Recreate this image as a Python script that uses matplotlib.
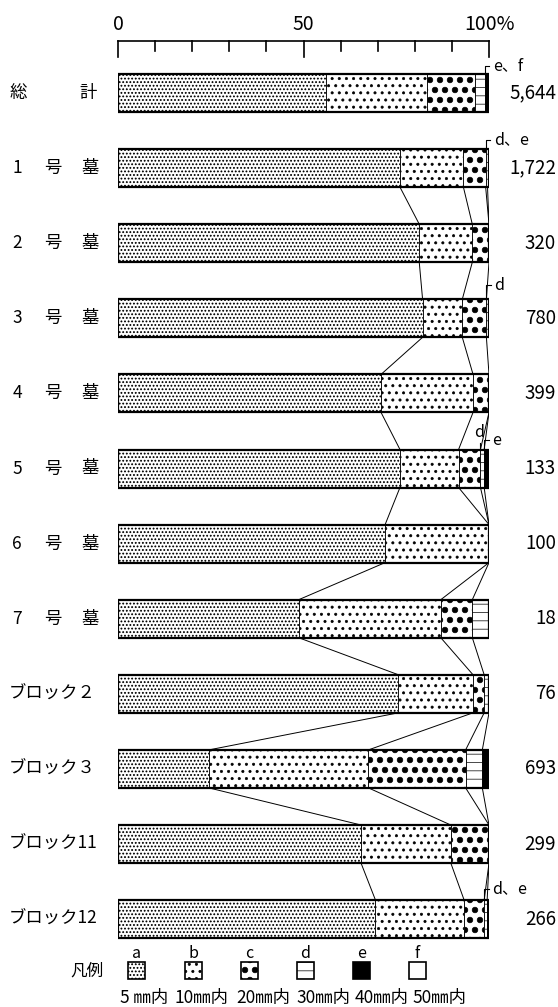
import numpy as np
import matplotlib
matplotlib.use("Agg")
import matplotlib.pyplot as plt
import matplotlib.hatch as mhatch
from matplotlib.patches import Rectangle
from matplotlib import font_manager

# ---------------- data ----------------
row_labels = ["総計", "1号墓", "2号墓", "3号墓", "4号墓", "5号墓", "6号墓", "7号墓",
              "ブロック２", "ブロック３", "ブロック11", "ブロック12"]
counts = ["5,644", "1,722", "320", "780", "399", "133", "100", "18", "76", "693", "299", "266"]
seg_a = [56.0, 76.0, 81.2, 82.1, 70.9, 76.0, 72.0, 48.7, 75.6, 24.5, 65.5, 69.4]   # 5mm
seg_b = [27.2, 17.1, 14.3, 10.7, 24.8, 15.8, 28.0, 38.3, 20.1, 43.0, 24.2, 23.9]   # 10mm
seg_c = [13.0, 6.0, 4.5, 6.5, 4.3, 5.9, 0.0, 8.5, 3.0, 26.2, 10.3, 5.4]            # 20mm
seg_d = [2.7, 0.5, 0.0, 0.7, 0.0, 1.0, 0.0, 4.5, 1.3, 4.5, 0.0, 0.8]               # 30mm
seg_e = [0.8, 0.4, 0.0, 0.0, 0.0, 1.3, 0.0, 0.0, 0.0, 1.8, 0.0, 0.5]               # 40mm
seg_f = [0.3, 0.0, 0.0, 0.0, 0.0, 0.0, 0.0, 0.0, 0.0, 0.0, 0.0, 0.0]               # 50mm
legend_keys = ["a", "b", "c", "d", "e", "f"]
legend_texts = ["5 ㎜内", "10㎜内", "20㎜内", "30㎜内", "40㎜内", "50㎜内"]
axis_ticks = [0, 10, 20, 30, 40, 50, 60, 70, 80, 90, 100]
axis_labels = {0: "0", 50: "50", 100: "100%"}
# notes: (row, text, boundary index after which the note sits, rise in px, style)
notes = [(0, "e、f", 3, 8, "bracket"), (1, "d、e", 2, 9, "bracket"),
         (3, "d", 2, 14, "bracket"), (5, "d", 2, 9, "above"),
         (5, "e", 3, 9, "bracket"), (11, "d、e", 2, 11, "bracket")]

# ---------------- custom dot hatches (even row counts) ----------------
class FineDots(mhatch.Circles):
    size = 0.17
    filled = True
    def __init__(self, hatch, density):
        self.num_rows = hatch.count('o') * 28
        super().__init__(hatch, density)

class MedDots(mhatch.Circles):
    size = 0.16
    filled = True
    def __init__(self, hatch, density):
        self.num_rows = hatch.count('O') * 14
        super().__init__(hatch, density)

class BigDots(mhatch.Circles):
    size = 0.28
    filled = True
    def __init__(self, hatch, density):
        self.num_rows = hatch.count('*') * 10
        super().__init__(hatch, density)

ht = mhatch._hatch_types
ht[ht.index(mhatch.SmallCircles)] = FineDots
ht[ht.index(mhatch.LargeCircles)] = MedDots
ht[ht.index(mhatch.Stars)] = BigDots

plt.rcParams['font.family'] = ['Noto Sans CJK JP', 'DejaVu Sans']
plt.rcParams['hatch.linewidth'] = 0.5
names = {f.name for f in font_manager.fontManager.ttflist}
num_font = ['Liberation Sans Narrow', 'Noto Sans CJK JP'] if 'Liberation Sans Narrow' in names \
    else ['Noto Sans CJK JP', 'DejaVu Sans']

styles = [dict(hatch='o', fc='white'), dict(hatch='O', fc='white'),
          dict(hatch='*', fc='white'), dict(hatch='--', fc='white'),
          dict(hatch=None, fc='black'), dict(hatch=None, fc='white')]

# ---------------- figure geometry ----------------
W, H = 558, 1007
X0, X100 = 118, 489
ROW0, ROWSTEP = 93, 75.1
fig = plt.figure(figsize=(W / 100, H / 100), dpi=100)
ax = fig.add_axes([X0 / W, 0, (X100 - X0) / W, 1])
ax.set_xlim(0, 100)
ax.set_ylim((H - ROW0) / ROWSTEP, -ROW0 / ROWSTEP)
ax.axis('off')

def dx(px):
    return (px - X0) / (X100 - X0) * 100

def dy(py):
    return (py - ROW0) / ROWSTEP

bh = 38 / ROWSTEP
segs = np.array([seg_a, seg_b, seg_c, seg_d, seg_e, seg_f]).T
n = len(row_labels)
ypos = np.arange(n)
cum = np.cumsum(segs, axis=1)

# bars
for i in range(n):
    left = 0.0
    for k in range(6):
        w = segs[i, k]
        if w > 0:
            st = styles[k]
            ax.barh(ypos[i], w, left=left, height=bh, color=st['fc'], edgecolor='black',
                    hatch=st['hatch'], linewidth=0.6)
        left += w
    ax.barh(ypos[i], cum[i, -1], left=0, height=bh, fill=False, edgecolor='black', linewidth=1.6)

# connecting lines
for i in range(1, n - 1):
    for k in range(5):
        xt, xb = cum[i, k], cum[i + 1, k]
        if xt >= 99.95 and xb >= 99.95:
            continue
        ax.plot([xt, xb], [ypos[i] + bh / 2, ypos[i + 1] - bh / 2], color='black', lw=0.7)

# top percentage scale
ax.plot([0, 100], [dy(41), dy(41)], color='black', lw=1.2, clip_on=False)
for t in axis_ticks:
    bottom = dy(57) if t in axis_labels else dy(51)
    ax.plot([t, t], [dy(41), bottom], color='black', lw=1.2, clip_on=False)
for t, lab in axis_labels.items():
    ax.text(t, dy(24), lab, ha='center', va='center', fontsize=14, family=num_font)

# row labels and counts
for i, lab in enumerate(row_labels):
    y = ypos[i]
    if lab.endswith("墓"):
        for ch, px in zip([lab[:-2], lab[-2], lab[-1]], [17, 53, 90]):
            ax.text(dx(px), y, ch, ha='center', va='center', fontsize=12.5)
    elif lab == "総計":
        ax.text(dx(18), y, lab[0], ha='center', va='center', fontsize=12.5)
        ax.text(dx(88), y, lab[1], ha='center', va='center', fontsize=12.5)
    else:
        ax.text(dx(9), y, lab, ha='left', va='center', fontsize=12.5)
    ax.text(dx(556), y, counts[i], ha='right', va='center', fontsize=13.5, family=num_font)

# small-segment notes
for (r, txt, kb, rise, style) in notes:
    xb = cum[r, kb]
    top = ypos[r] - bh / 2
    lvl = top - rise / ROWSTEP
    if style == "bracket":
        ax.plot([xb, xb, xb + 1.2], [top, lvl, lvl], color='black', lw=0.8, clip_on=False)
        ax.text(xb + 2.2, lvl, txt, ha='left', va='center', fontsize=11.5)
    else:
        ax.plot([xb, xb], [top, lvl + 0.03], color='black', lw=0.8, clip_on=False)
        ax.text(xb - 0.3, lvl - 0.1, txt, ha='center', va='center', fontsize=11.5)

# legend
ax.text(dx(87), dy(971), "凡例", ha='center', va='center', fontsize=12)
box_x = [128, 185, 241, 297, 353, 409]
text_x = [120, 175, 236, 296, 355, 412]
for k in range(6):
    st = styles[k]
    x0 = dx(box_x[k])
    wbox = dx(box_x[k] + 17) - x0
    ax.add_patch(Rectangle((x0, dy(979)), wbox, dy(962) - dy(979), facecolor=st['fc'],
                           edgecolor='black', hatch=st['hatch'], linewidth=1.2, clip_on=False))
    ax.text(x0 + wbox / 2, dy(953), legend_keys[k], ha='center', va='center', fontsize=11.5)
    ax.text(dx(text_x[k]), dy(998), legend_texts[k], ha='left', va='center', fontsize=12.5)

fig.savefig("out.png", dpi=100)
